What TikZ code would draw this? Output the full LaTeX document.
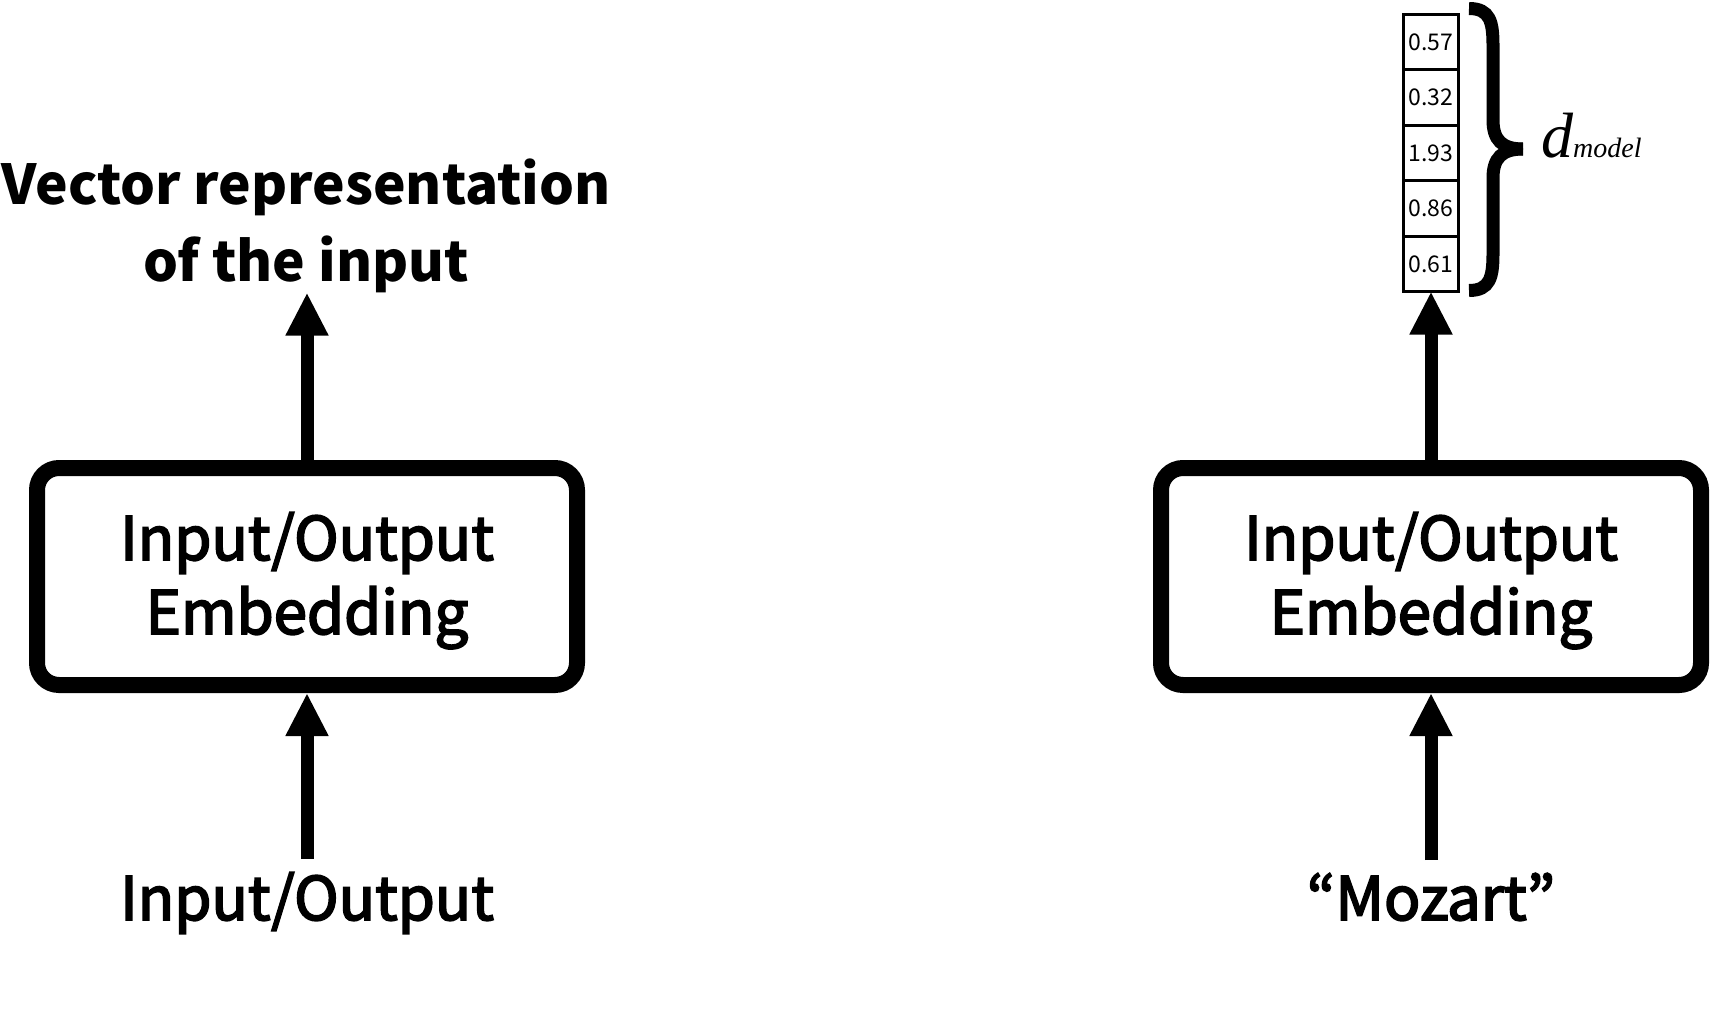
\documentclass[tikz,border=0pt]{standalone}
\usepackage{fontspec}
\setmainfont{Noto Sans CJK KR}
\newfontfamily\medfont{Noto Sans CJK KR}[FakeBold=3]
\newfontfamily\serifit{Liberation Serif}
\usetikzlibrary{arrows.meta}
\begin{document}
\begin{tikzpicture}[x=1pt,y=-1pt,
  emb/.style={draw, line width=16pt, rounded corners=22pt, minimum width=540pt,
    minimum height=217pt, align=center, font=\medfont\fontsize{60}{74}\selectfont,
    text height=115pt, text depth=0pt, inner sep=0pt},
  lbl/.style={font=\medfont\fontsize{60}{74}\selectfont, inner sep=0pt},
  flow/.style={line width=13pt, -{Triangle[length=43pt,width=40pt]}},
  cell/.style={draw, line width=3pt, minimum width=55pt, minimum height=55.4pt,
    inner sep=0pt, outer sep=0pt, font=\fontsize{23}{23}\selectfont},
  bracestroke/.style={line width=13pt}
]
\useasboundingbox (0,0) rectangle (1711,1010);

% boxes
\node[emb] (lbox) at (307,576.5) {Input/Output\\Embedding};
\node[emb] (rbox) at (1431,576.5) {Input/Output\\Embedding};

% texts
\node[font=\bfseries\fontsize{55}{77}\selectfont, align=center, anchor=base, inner sep=0pt]
  (ltitle) at (306,281) {Vector representation\\of the input};
\node[lbl, anchor=base] (lin) at (307,920) {Input/Output};
\node[lbl, anchor=base] (rin) at (1431,920) {“Mozart”};

% vector
\foreach \v [count=\i from 0] in {0.57,0.32,1.93,0.86,0.61}
  \node[cell] (c\i) at (1431,{42.2+55.4*\i}) {\v};

% arrows
\draw[flow] (lbox.north) -- (lbox.north |- ltitle.south);
\draw[flow] ([yshift=13pt]lin.north) -- (lbox.south);
\draw[flow] ([yshift=13pt]rin.north) -- (rbox.south);
\draw[flow] (rbox.north) -- (c4.south);

% brace
\draw[bracestroke] (1469,8.5) .. controls (1490,8.5) and (1493,22) .. (1493,45)
  -- (1493,120) .. controls (1493,140) and (1502,149) .. (1523,149);
\draw[bracestroke] (1469,290.5) .. controls (1490,290.5) and (1493,277) .. (1493,254)
  -- (1493,178) .. controls (1493,158) and (1502,149) .. (1523,149);

% d_model
\node[anchor=base west, inner sep=0pt, font=\serifit\itshape] (dm) at (1541,157)
  {\fontsize{64}{64}\selectfont d\fontsize{28}{28}\selectfont model};
\end{tikzpicture}
\end{document}
